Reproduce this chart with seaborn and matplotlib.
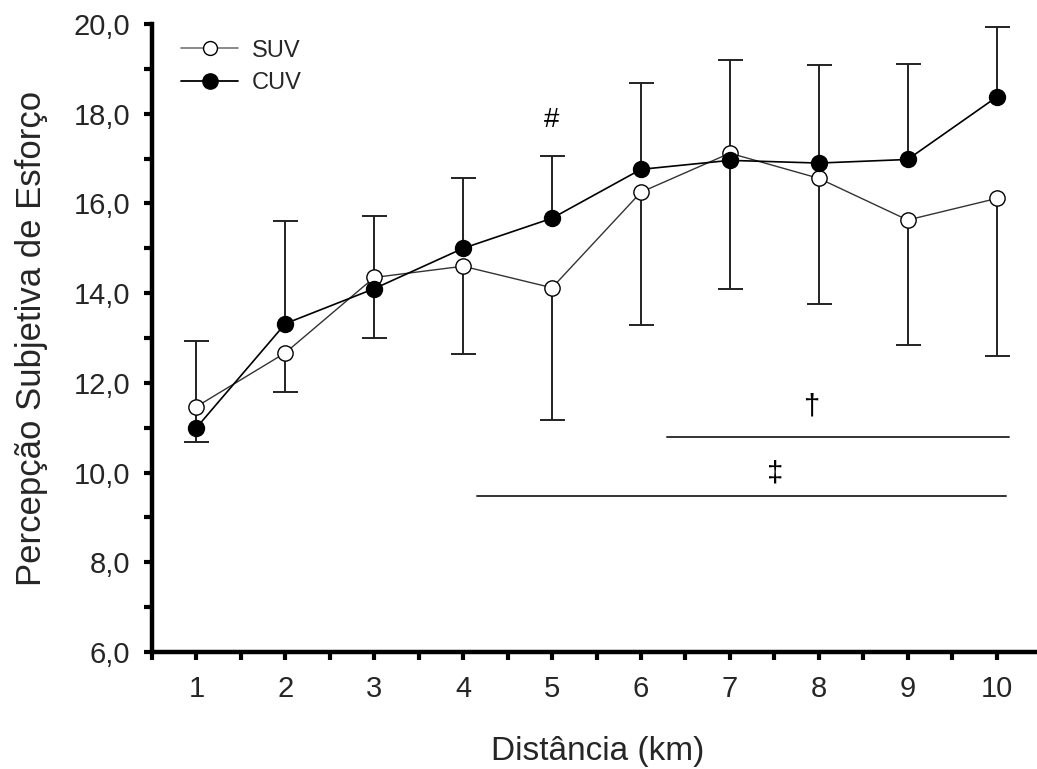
import matplotlib
matplotlib.use("Agg")
import matplotlib.pyplot as plt
from matplotlib.lines import Line2D
from matplotlib.ticker import MultipleLocator, FuncFormatter
import seaborn as sns
import numpy as np
import pandas as pd

# ---- data ----
distance = [1, 2, 3, 4, 5, 6, 7, 8, 9, 10]
suv_mean = [11.47, 12.67, 14.35, 14.60, 14.12, 16.25, 17.12, 16.56, 15.63, 16.11]
suv_sd = [0.78, 0.87, 1.34, 1.95, 2.94, 2.97, 3.02, 2.81, 2.78, 3.52]
cuv_mean = [11.00, 13.32, 14.10, 15.00, 15.67, 16.76, 16.96, 16.90, 16.98, 18.37]
cuv_sd = [1.94, 2.28, 1.61, 1.56, 1.38, 1.92, 2.24, 2.18, 2.12, 1.56]
series_names = ["SUV", "CUV"]
x_label = "Distância (km)"
y_label = "Percepção Subjetiva de Esforço"
hash_mark = ("#", 5.0, 17.85)
dagger = ("†", 7.92, 11.47, 6.29, 10.14, 10.80)
ddagger = ("‡", 7.51, 9.97, 4.16, 10.11, 9.48)

sns.set_style("ticks")
plt.rcParams['font.family'] = ['Liberation Sans', 'DejaVu Sans']

fig = plt.figure(figsize=(10.37, 7.69), dpi=100)
ax = fig.add_axes([152/1037, 117/769, 885/1037, 628/769])

df = pd.DataFrame({"x": distance, "suv": suv_mean, "cuv": cuv_mean})

# one-sided error bars: SUV downward, CUV upward (cap only at the far end)
suv_low = np.array(suv_mean) - np.array(suv_sd)
cuv_high = np.array(cuv_mean) + np.array(cuv_sd)
err_col = '#222222'
ax.vlines(distance, suv_low, suv_mean, colors=err_col, linewidth=1.4, zorder=1)
ax.vlines(distance, cuv_mean, cuv_high, colors=err_col, linewidth=1.4, zorder=1)
ax.plot(distance, suv_low, linestyle='none', marker='_', markersize=18,
        markeredgewidth=1.4, color=err_col, zorder=1)
ax.plot(distance, cuv_high, linestyle='none', marker='_', markersize=18,
        markeredgewidth=1.4, color=err_col, zorder=1)

sns.lineplot(data=df, x="x", y="suv", ax=ax, color='#333333', linewidth=1.0,
             marker='o', markersize=11, markerfacecolor='white',
             markeredgecolor='black', markeredgewidth=1.0, zorder=2)
sns.lineplot(data=df, x="x", y="cuv", ax=ax, color='black', linewidth=1.2,
             marker='o', markersize=11.5, markerfacecolor='black',
             markeredgecolor='black', markeredgewidth=1.0, zorder=3)

# significance annotations
ax.text(hash_mark[1], hash_mark[2], hash_mark[0], ha='center', va='center',
        fontsize=20, color='black')
for sym, tx, ty, x0, x1, ly in (dagger, ddagger):
    ax.text(tx, ty, sym, ha='center', va='center', fontsize=21, color='black')
    ax.plot([x0, x1], [ly, ly], color='#333333', linewidth=1.4, zorder=1)

# axes styling
ax.set_xlim(0.5, 0.5 + 885/88.9)
ax.set_ylim(6, 20)
ax.xaxis.set_major_locator(MultipleLocator(1))
ax.xaxis.set_minor_locator(MultipleLocator(0.5))
ax.yaxis.set_major_locator(MultipleLocator(2))
ax.yaxis.set_minor_locator(MultipleLocator(1))
ax.yaxis.set_major_formatter(FuncFormatter(lambda v, p: f"{v:.1f}".replace('.', ',')))
ax.xaxis.set_major_formatter(FuncFormatter(lambda v, p: f"{int(round(v))}" if 1 <= v <= 10 else ""))

for s in ['top', 'right']:
    ax.spines[s].set_visible(False)
for s in ['left', 'bottom']:
    ax.spines[s].set_linewidth(3.2)
    ax.spines[s].set_color('black')

ax.tick_params(axis='both', which='both', direction='out', length=5.5, width=3,
               color='black')
ax.tick_params(axis='y', which='major', labelsize=21, pad=10)
ax.tick_params(axis='x', which='major', labelsize=21, pad=11)

ax.set_xlabel(x_label, fontsize=24)
ax.set_ylabel(y_label, fontsize=25)
ax.xaxis.set_label_coords(0.504, -0.134)
ax.yaxis.set_label_coords(-0.118, 0.5)

handles = [
    Line2D([0], [0], color='#777777', linewidth=1.2, marker='o', markersize=10,
           markerfacecolor='white', markeredgecolor='black', markeredgewidth=1.0),
    Line2D([0], [0], color='black', linewidth=1.3, marker='o', markersize=11,
           markerfacecolor='black', markeredgecolor='black'),
]
ax.legend(handles, series_names, loc='upper left', bbox_to_anchor=(0.033, 0.975),
          frameon=False, fontsize=17, handlelength=2.4, handletextpad=0.6,
          labelspacing=0.45, borderaxespad=0, borderpad=0)

fig.savefig("out.png", dpi=100)
